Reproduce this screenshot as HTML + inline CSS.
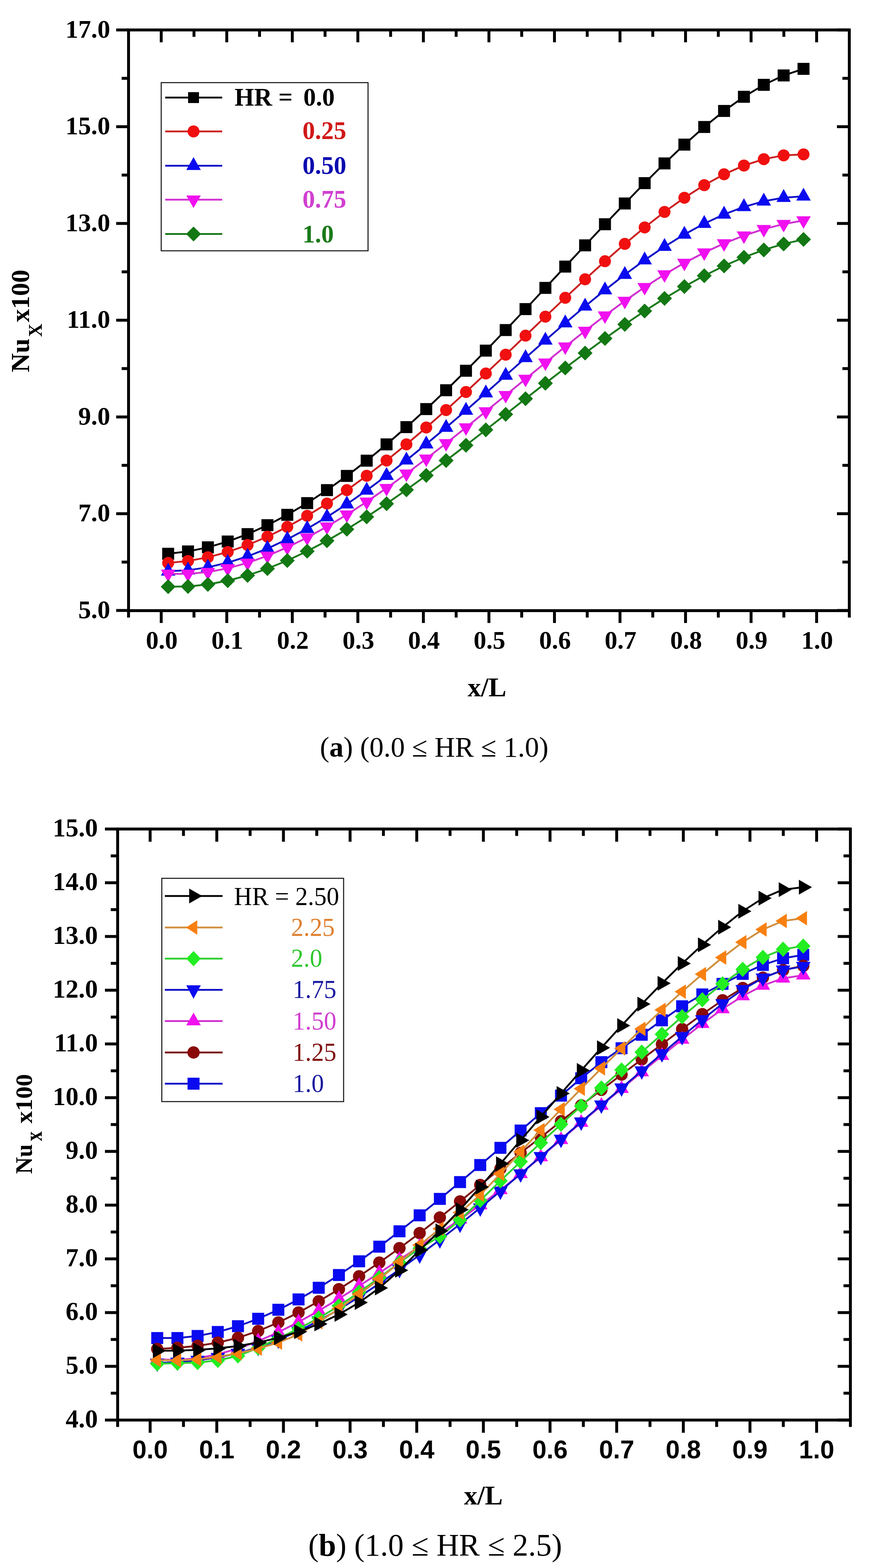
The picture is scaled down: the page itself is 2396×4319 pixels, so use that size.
<!DOCTYPE html>
<html><head><meta charset="utf-8"><title>Nu_x vs x/L</title>
<style>
html,body{margin:0;padding:0;background:#fff;}
body{width:2396px;height:4319px;overflow:hidden;}
svg{display:block;}
.tb{font-family:'Liberation Serif', 'Times New Roman', serif;font-weight:bold;}
.tr{font-family:'Liberation Serif', 'Times New Roman', serif;font-weight:normal;}
.sb{font-family:'Liberation Sans', Arial, sans-serif;font-weight:bold;}
.cap{font-family:'Liberation Serif', 'Times New Roman', serif;}
</style></head><body>
<svg width="2396" height="4319" viewBox="0 0 2396 4319">
<rect width="2396" height="4319" fill="#fff"/>
<g id="plotA">
<rect x="354" y="82.5" width="1985" height="1599.5" fill="none" stroke="#000" stroke-width="8"/>
<line x1="444.0" y1="1682" x2="444.0" y2="1716" stroke="#000" stroke-width="8"/>
<line x1="444.0" y1="82.5" x2="444.0" y2="116.5" stroke="#000" stroke-width="8"/>
<line x1="624.5" y1="1682" x2="624.5" y2="1716" stroke="#000" stroke-width="8"/>
<line x1="624.5" y1="82.5" x2="624.5" y2="116.5" stroke="#000" stroke-width="8"/>
<line x1="805.0" y1="1682" x2="805.0" y2="1716" stroke="#000" stroke-width="8"/>
<line x1="805.0" y1="82.5" x2="805.0" y2="116.5" stroke="#000" stroke-width="8"/>
<line x1="985.5" y1="1682" x2="985.5" y2="1716" stroke="#000" stroke-width="8"/>
<line x1="985.5" y1="82.5" x2="985.5" y2="116.5" stroke="#000" stroke-width="8"/>
<line x1="1166.0" y1="1682" x2="1166.0" y2="1716" stroke="#000" stroke-width="8"/>
<line x1="1166.0" y1="82.5" x2="1166.0" y2="116.5" stroke="#000" stroke-width="8"/>
<line x1="1346.5" y1="1682" x2="1346.5" y2="1716" stroke="#000" stroke-width="8"/>
<line x1="1346.5" y1="82.5" x2="1346.5" y2="116.5" stroke="#000" stroke-width="8"/>
<line x1="1527.0" y1="1682" x2="1527.0" y2="1716" stroke="#000" stroke-width="8"/>
<line x1="1527.0" y1="82.5" x2="1527.0" y2="116.5" stroke="#000" stroke-width="8"/>
<line x1="1707.5" y1="1682" x2="1707.5" y2="1716" stroke="#000" stroke-width="8"/>
<line x1="1707.5" y1="82.5" x2="1707.5" y2="116.5" stroke="#000" stroke-width="8"/>
<line x1="1888.0" y1="1682" x2="1888.0" y2="1716" stroke="#000" stroke-width="8"/>
<line x1="1888.0" y1="82.5" x2="1888.0" y2="116.5" stroke="#000" stroke-width="8"/>
<line x1="2068.5" y1="1682" x2="2068.5" y2="1716" stroke="#000" stroke-width="8"/>
<line x1="2068.5" y1="82.5" x2="2068.5" y2="116.5" stroke="#000" stroke-width="8"/>
<line x1="2249.0" y1="1682" x2="2249.0" y2="1716" stroke="#000" stroke-width="8"/>
<line x1="2249.0" y1="82.5" x2="2249.0" y2="116.5" stroke="#000" stroke-width="8"/>
<line x1="354" y1="1682" x2="354" y2="1701" stroke="#000" stroke-width="8"/>
<line x1="2339" y1="1682" x2="2339" y2="1701" stroke="#000" stroke-width="8"/>
<line x1="534.25" y1="1682" x2="534.25" y2="1701" stroke="#000" stroke-width="8"/>
<line x1="534.25" y1="82.5" x2="534.25" y2="101.5" stroke="#000" stroke-width="8"/>
<line x1="714.75" y1="1682" x2="714.75" y2="1701" stroke="#000" stroke-width="8"/>
<line x1="714.75" y1="82.5" x2="714.75" y2="101.5" stroke="#000" stroke-width="8"/>
<line x1="895.25" y1="1682" x2="895.25" y2="1701" stroke="#000" stroke-width="8"/>
<line x1="895.25" y1="82.5" x2="895.25" y2="101.5" stroke="#000" stroke-width="8"/>
<line x1="1075.75" y1="1682" x2="1075.75" y2="1701" stroke="#000" stroke-width="8"/>
<line x1="1075.75" y1="82.5" x2="1075.75" y2="101.5" stroke="#000" stroke-width="8"/>
<line x1="1256.25" y1="1682" x2="1256.25" y2="1701" stroke="#000" stroke-width="8"/>
<line x1="1256.25" y1="82.5" x2="1256.25" y2="101.5" stroke="#000" stroke-width="8"/>
<line x1="1436.75" y1="1682" x2="1436.75" y2="1701" stroke="#000" stroke-width="8"/>
<line x1="1436.75" y1="82.5" x2="1436.75" y2="101.5" stroke="#000" stroke-width="8"/>
<line x1="1617.25" y1="1682" x2="1617.25" y2="1701" stroke="#000" stroke-width="8"/>
<line x1="1617.25" y1="82.5" x2="1617.25" y2="101.5" stroke="#000" stroke-width="8"/>
<line x1="1797.75" y1="1682" x2="1797.75" y2="1701" stroke="#000" stroke-width="8"/>
<line x1="1797.75" y1="82.5" x2="1797.75" y2="101.5" stroke="#000" stroke-width="8"/>
<line x1="1978.2500000000002" y1="1682" x2="1978.2500000000002" y2="1701" stroke="#000" stroke-width="8"/>
<line x1="1978.2500000000002" y1="82.5" x2="1978.2500000000002" y2="101.5" stroke="#000" stroke-width="8"/>
<line x1="2158.75" y1="1682" x2="2158.75" y2="1701" stroke="#000" stroke-width="8"/>
<line x1="2158.75" y1="82.5" x2="2158.75" y2="101.5" stroke="#000" stroke-width="8"/>
<line x1="354" y1="1681.5" x2="320" y2="1681.5" stroke="#000" stroke-width="8"/>
<line x1="2339" y1="1681.5" x2="2305" y2="1681.5" stroke="#000" stroke-width="8"/>
<line x1="354" y1="1415.0" x2="320" y2="1415.0" stroke="#000" stroke-width="8"/>
<line x1="2339" y1="1415.0" x2="2305" y2="1415.0" stroke="#000" stroke-width="8"/>
<line x1="354" y1="1148.5" x2="320" y2="1148.5" stroke="#000" stroke-width="8"/>
<line x1="2339" y1="1148.5" x2="2305" y2="1148.5" stroke="#000" stroke-width="8"/>
<line x1="354" y1="882.0" x2="320" y2="882.0" stroke="#000" stroke-width="8"/>
<line x1="2339" y1="882.0" x2="2305" y2="882.0" stroke="#000" stroke-width="8"/>
<line x1="354" y1="615.5" x2="320" y2="615.5" stroke="#000" stroke-width="8"/>
<line x1="2339" y1="615.5" x2="2305" y2="615.5" stroke="#000" stroke-width="8"/>
<line x1="354" y1="349.0" x2="320" y2="349.0" stroke="#000" stroke-width="8"/>
<line x1="2339" y1="349.0" x2="2305" y2="349.0" stroke="#000" stroke-width="8"/>
<line x1="354" y1="82.5" x2="320" y2="82.5" stroke="#000" stroke-width="8"/>
<line x1="2339" y1="82.5" x2="2305" y2="82.5" stroke="#000" stroke-width="8"/>
<line x1="354" y1="1548.25" x2="335" y2="1548.25" stroke="#000" stroke-width="8"/>
<line x1="2339" y1="1548.25" x2="2320" y2="1548.25" stroke="#000" stroke-width="8"/>
<line x1="354" y1="1281.75" x2="335" y2="1281.75" stroke="#000" stroke-width="8"/>
<line x1="2339" y1="1281.75" x2="2320" y2="1281.75" stroke="#000" stroke-width="8"/>
<line x1="354" y1="1015.25" x2="335" y2="1015.25" stroke="#000" stroke-width="8"/>
<line x1="2339" y1="1015.25" x2="2320" y2="1015.25" stroke="#000" stroke-width="8"/>
<line x1="354" y1="748.75" x2="335" y2="748.75" stroke="#000" stroke-width="8"/>
<line x1="2339" y1="748.75" x2="2320" y2="748.75" stroke="#000" stroke-width="8"/>
<line x1="354" y1="482.25" x2="335" y2="482.25" stroke="#000" stroke-width="8"/>
<line x1="2339" y1="482.25" x2="2320" y2="482.25" stroke="#000" stroke-width="8"/>
<line x1="354" y1="215.75" x2="335" y2="215.75" stroke="#000" stroke-width="8"/>
<line x1="2339" y1="215.75" x2="2320" y2="215.75" stroke="#000" stroke-width="8"/>
<text x="303.5" y="1702.5" text-anchor="end" class="tb" font-size="70.5">5.0</text>
<text x="303.5" y="1436.0" text-anchor="end" class="tb" font-size="70.5">7.0</text>
<text x="303.5" y="1169.5" text-anchor="end" class="tb" font-size="70.5">9.0</text>
<text x="303.5" y="903.0" text-anchor="end" class="tb" font-size="70.5">11.0</text>
<text x="303.5" y="636.5" text-anchor="end" class="tb" font-size="70.5">13.0</text>
<text x="303.5" y="370.0" text-anchor="end" class="tb" font-size="70.5">15.0</text>
<text x="303.5" y="103.5" text-anchor="end" class="tb" font-size="70.5">17.0</text>
<text x="445.5" y="1787" text-anchor="middle" class="tb" font-size="70">0.0</text>
<text x="626.0" y="1787" text-anchor="middle" class="tb" font-size="70">0.1</text>
<text x="806.5" y="1787" text-anchor="middle" class="tb" font-size="70">0.2</text>
<text x="987.0" y="1787" text-anchor="middle" class="tb" font-size="70">0.3</text>
<text x="1167.5" y="1787" text-anchor="middle" class="tb" font-size="70">0.4</text>
<text x="1348.0" y="1787" text-anchor="middle" class="tb" font-size="70">0.5</text>
<text x="1528.5" y="1787" text-anchor="middle" class="tb" font-size="70">0.6</text>
<text x="1709.0" y="1787" text-anchor="middle" class="tb" font-size="70">0.7</text>
<text x="1889.5" y="1787" text-anchor="middle" class="tb" font-size="70">0.8</text>
<text x="2070.0" y="1787" text-anchor="middle" class="tb" font-size="70">0.9</text>
<text x="2250.5" y="1787" text-anchor="middle" class="tb" font-size="70">1.0</text>
<text x="1341.2" y="1917.7" text-anchor="middle" class="tb" font-size="74">x/L</text>
<g transform="translate(79.8,1024.4) rotate(-90)"><text x="-1" y="0" class="tb" font-size="72" textLength="93" lengthAdjust="spacingAndGlyphs">Nu</text><text x="96.5" y="35.3" class="tb" font-size="53" textLength="36.5" lengthAdjust="spacingAndGlyphs">X</text><text x="137" y="0" class="tb" font-size="72" textLength="144.5" lengthAdjust="spacingAndGlyphs">x100</text></g>
<polyline points="463.1,1525.3 517.8,1518.9 572.5,1507.6 627.1,1491.6 681.8,1471.2 736.5,1446.6 791.2,1418.1 845.9,1385.8 900.5,1350.0 955.2,1310.9 1009.9,1268.9 1064.6,1224.0 1119.3,1176.5 1173.9,1126.8 1228.6,1074.9 1283.3,1021.2 1338.0,965.8 1392.7,909.1 1447.3,851.4 1502.0,793.0 1556.7,734.3 1611.4,675.8 1666.1,617.7 1720.7,560.5 1775.4,504.4 1830.1,450.1 1884.8,398.3 1939.5,349.8 1994.1,305.6 2048.8,266.6 2103.5,233.7 2158.2,207.8 2212.9,189.7" fill="none" stroke="#000" stroke-width="5" stroke-linejoin="round"/><rect x="446.6" y="1508.8" width="33.0" height="33.0" fill="#000"/><rect x="501.3" y="1502.4" width="33.0" height="33.0" fill="#000"/><rect x="556.0" y="1491.1" width="33.0" height="33.0" fill="#000"/><rect x="610.6" y="1475.1" width="33.0" height="33.0" fill="#000"/><rect x="665.3" y="1454.7" width="33.0" height="33.0" fill="#000"/><rect x="720.0" y="1430.1" width="33.0" height="33.0" fill="#000"/><rect x="774.7" y="1401.6" width="33.0" height="33.0" fill="#000"/><rect x="829.4" y="1369.3" width="33.0" height="33.0" fill="#000"/><rect x="884.0" y="1333.5" width="33.0" height="33.0" fill="#000"/><rect x="938.7" y="1294.4" width="33.0" height="33.0" fill="#000"/><rect x="993.4" y="1252.4" width="33.0" height="33.0" fill="#000"/><rect x="1048.1" y="1207.5" width="33.0" height="33.0" fill="#000"/><rect x="1102.8" y="1160.0" width="33.0" height="33.0" fill="#000"/><rect x="1157.4" y="1110.3" width="33.0" height="33.0" fill="#000"/><rect x="1212.1" y="1058.4" width="33.0" height="33.0" fill="#000"/><rect x="1266.8" y="1004.7" width="33.0" height="33.0" fill="#000"/><rect x="1321.5" y="949.3" width="33.0" height="33.0" fill="#000"/><rect x="1376.2" y="892.6" width="33.0" height="33.0" fill="#000"/><rect x="1430.8" y="834.9" width="33.0" height="33.0" fill="#000"/><rect x="1485.5" y="776.5" width="33.0" height="33.0" fill="#000"/><rect x="1540.2" y="717.8" width="33.0" height="33.0" fill="#000"/><rect x="1594.9" y="659.3" width="33.0" height="33.0" fill="#000"/><rect x="1649.6" y="601.2" width="33.0" height="33.0" fill="#000"/><rect x="1704.2" y="544.0" width="33.0" height="33.0" fill="#000"/><rect x="1758.9" y="487.9" width="33.0" height="33.0" fill="#000"/><rect x="1813.6" y="433.6" width="33.0" height="33.0" fill="#000"/><rect x="1868.3" y="381.8" width="33.0" height="33.0" fill="#000"/><rect x="1923.0" y="333.3" width="33.0" height="33.0" fill="#000"/><rect x="1977.6" y="289.1" width="33.0" height="33.0" fill="#000"/><rect x="2032.3" y="250.1" width="33.0" height="33.0" fill="#000"/><rect x="2087.0" y="217.2" width="33.0" height="33.0" fill="#000"/><rect x="2141.7" y="191.3" width="33.0" height="33.0" fill="#000"/><rect x="2196.4" y="173.2" width="33.0" height="33.0" fill="#000"/>
<polyline points="463.1,1550.6 517.8,1545.3 572.5,1535.1 627.1,1520.4 681.8,1501.3 736.5,1478.2 791.2,1451.3 845.9,1420.8 900.5,1387.0 955.2,1350.1 1009.9,1310.5 1064.6,1268.4 1119.3,1224.0 1173.9,1177.5 1228.6,1129.4 1283.3,1079.7 1338.0,1028.8 1392.7,977.0 1447.3,924.6 1502.0,872.2 1556.7,820.3 1611.4,769.3 1666.1,719.6 1720.7,671.8 1775.4,626.4 1830.1,583.8 1884.8,544.7 1939.5,510.0 1994.1,480.1 2048.8,456.0 2103.5,438.4 2158.2,427.9 2212.9,425.2" fill="none" stroke="#cc2020" stroke-width="5" stroke-linejoin="round"/><circle cx="463.1" cy="1550.6" r="16.5" fill="#f01010"/><circle cx="517.8" cy="1545.3" r="16.5" fill="#f01010"/><circle cx="572.5" cy="1535.1" r="16.5" fill="#f01010"/><circle cx="627.1" cy="1520.4" r="16.5" fill="#f01010"/><circle cx="681.8" cy="1501.3" r="16.5" fill="#f01010"/><circle cx="736.5" cy="1478.2" r="16.5" fill="#f01010"/><circle cx="791.2" cy="1451.3" r="16.5" fill="#f01010"/><circle cx="845.9" cy="1420.8" r="16.5" fill="#f01010"/><circle cx="900.5" cy="1387.0" r="16.5" fill="#f01010"/><circle cx="955.2" cy="1350.1" r="16.5" fill="#f01010"/><circle cx="1009.9" cy="1310.5" r="16.5" fill="#f01010"/><circle cx="1064.6" cy="1268.4" r="16.5" fill="#f01010"/><circle cx="1119.3" cy="1224.0" r="16.5" fill="#f01010"/><circle cx="1173.9" cy="1177.5" r="16.5" fill="#f01010"/><circle cx="1228.6" cy="1129.4" r="16.5" fill="#f01010"/><circle cx="1283.3" cy="1079.7" r="16.5" fill="#f01010"/><circle cx="1338.0" cy="1028.8" r="16.5" fill="#f01010"/><circle cx="1392.7" cy="977.0" r="16.5" fill="#f01010"/><circle cx="1447.3" cy="924.6" r="16.5" fill="#f01010"/><circle cx="1502.0" cy="872.2" r="16.5" fill="#f01010"/><circle cx="1556.7" cy="820.3" r="16.5" fill="#f01010"/><circle cx="1611.4" cy="769.3" r="16.5" fill="#f01010"/><circle cx="1666.1" cy="719.6" r="16.5" fill="#f01010"/><circle cx="1720.7" cy="671.8" r="16.5" fill="#f01010"/><circle cx="1775.4" cy="626.4" r="16.5" fill="#f01010"/><circle cx="1830.1" cy="583.8" r="16.5" fill="#f01010"/><circle cx="1884.8" cy="544.7" r="16.5" fill="#f01010"/><circle cx="1939.5" cy="510.0" r="16.5" fill="#f01010"/><circle cx="1994.1" cy="480.1" r="16.5" fill="#f01010"/><circle cx="2048.8" cy="456.0" r="16.5" fill="#f01010"/><circle cx="2103.5" cy="438.4" r="16.5" fill="#f01010"/><circle cx="2158.2" cy="427.9" r="16.5" fill="#f01010"/><circle cx="2212.9" cy="425.2" r="16.5" fill="#f01010"/>
<polyline points="463.1,1573.5 517.8,1570.6 572.5,1562.6 627.1,1549.8 681.8,1532.5 736.5,1510.9 791.2,1485.5 845.9,1456.4 900.5,1424.1 955.2,1388.7 1009.9,1350.6 1064.6,1310.2 1119.3,1267.7 1173.9,1223.3 1228.6,1177.5 1283.3,1130.5 1338.0,1082.7 1392.7,1034.2 1447.3,985.7 1502.0,937.4 1556.7,889.9 1611.4,843.6 1666.1,799.0 1720.7,756.4 1775.4,716.4 1830.1,679.3 1884.8,645.7 1939.5,615.9 1994.1,590.5 2048.8,569.8 2103.5,554.3 2158.2,544.5 2212.9,540.8" fill="none" stroke="#1010c8" stroke-width="5" stroke-linejoin="round"/><polygon points="443.1,1585.4 483.1,1585.4 463.1,1549.9" fill="#0a0af0"/><polygon points="497.8,1582.5 537.8,1582.5 517.8,1547.0" fill="#0a0af0"/><polygon points="552.5,1574.5 592.5,1574.5 572.5,1539.0" fill="#0a0af0"/><polygon points="607.1,1561.6 647.1,1561.6 627.1,1526.1" fill="#0a0af0"/><polygon points="661.8,1544.3 701.8,1544.3 681.8,1508.8" fill="#0a0af0"/><polygon points="716.5,1522.8 756.5,1522.8 736.5,1487.3" fill="#0a0af0"/><polygon points="771.2,1497.3 811.2,1497.3 791.2,1461.8" fill="#0a0af0"/><polygon points="825.9,1468.2 865.9,1468.2 845.9,1432.7" fill="#0a0af0"/><polygon points="880.5,1435.9 920.5,1435.9 900.5,1400.4" fill="#0a0af0"/><polygon points="935.2,1400.5 975.2,1400.5 955.2,1365.0" fill="#0a0af0"/><polygon points="989.9,1362.5 1029.9,1362.5 1009.9,1327.0" fill="#0a0af0"/><polygon points="1044.6,1322.0 1084.6,1322.0 1064.6,1286.5" fill="#0a0af0"/><polygon points="1099.3,1279.5 1139.3,1279.5 1119.3,1244.0" fill="#0a0af0"/><polygon points="1153.9,1235.2 1193.9,1235.2 1173.9,1199.7" fill="#0a0af0"/><polygon points="1208.6,1189.4 1248.6,1189.4 1228.6,1153.9" fill="#0a0af0"/><polygon points="1263.3,1142.4 1303.3,1142.4 1283.3,1106.9" fill="#0a0af0"/><polygon points="1318.0,1094.5 1358.0,1094.5 1338.0,1059.0" fill="#0a0af0"/><polygon points="1372.7,1046.1 1412.7,1046.1 1392.7,1010.6" fill="#0a0af0"/><polygon points="1427.3,997.5 1467.3,997.5 1447.3,962.0" fill="#0a0af0"/><polygon points="1482.0,949.2 1522.0,949.2 1502.0,913.7" fill="#0a0af0"/><polygon points="1536.7,901.7 1576.7,901.7 1556.7,866.2" fill="#0a0af0"/><polygon points="1591.4,855.4 1631.4,855.4 1611.4,819.9" fill="#0a0af0"/><polygon points="1646.1,810.8 1686.1,810.8 1666.1,775.3" fill="#0a0af0"/><polygon points="1700.7,768.2 1740.7,768.2 1720.7,732.7" fill="#0a0af0"/><polygon points="1755.4,728.2 1795.4,728.2 1775.4,692.7" fill="#0a0af0"/><polygon points="1810.1,691.1 1850.1,691.1 1830.1,655.6" fill="#0a0af0"/><polygon points="1864.8,657.5 1904.8,657.5 1884.8,622.0" fill="#0a0af0"/><polygon points="1919.5,627.8 1959.5,627.8 1939.5,592.3" fill="#0a0af0"/><polygon points="1974.1,602.3 2014.1,602.3 1994.1,566.8" fill="#0a0af0"/><polygon points="2028.8,581.6 2068.8,581.6 2048.8,546.1" fill="#0a0af0"/><polygon points="2083.5,566.2 2123.5,566.2 2103.5,530.7" fill="#0a0af0"/><polygon points="2138.2,556.3 2178.2,556.3 2158.2,520.8" fill="#0a0af0"/><polygon points="2192.9,552.6 2232.9,552.6 2212.9,517.1" fill="#0a0af0"/>
<polyline points="463.1,1580.4 517.8,1580.8 572.5,1575.7 627.1,1565.4 681.8,1550.3 736.5,1531.0 791.2,1507.6 845.9,1480.7 900.5,1450.5 955.2,1417.6 1009.9,1382.1 1064.6,1344.4 1119.3,1304.8 1173.9,1263.6 1228.6,1221.1 1283.3,1177.5 1338.0,1133.3 1392.7,1088.6 1447.3,1043.7 1502.0,999.1 1556.7,954.8 1611.4,911.4 1666.1,869.2 1720.7,828.9 1775.4,791.0 1830.1,756.1 1884.8,724.2 1939.5,695.7 1994.1,670.6 2048.8,649.0 2103.5,631.2 2158.2,617.2 2212.9,607.2" fill="none" stroke="#d030d0" stroke-width="5" stroke-linejoin="round"/><polygon points="443.1,1568.9 483.1,1568.9 463.1,1603.4" fill="#f010f0"/><polygon points="497.8,1569.3 537.8,1569.3 517.8,1603.8" fill="#f010f0"/><polygon points="552.5,1564.2 592.5,1564.2 572.5,1598.7" fill="#f010f0"/><polygon points="607.1,1553.9 647.1,1553.9 627.1,1588.4" fill="#f010f0"/><polygon points="661.8,1538.8 701.8,1538.8 681.8,1573.3" fill="#f010f0"/><polygon points="716.5,1519.5 756.5,1519.5 736.5,1554.0" fill="#f010f0"/><polygon points="771.2,1496.1 811.2,1496.1 791.2,1530.6" fill="#f010f0"/><polygon points="825.9,1469.2 865.9,1469.2 845.9,1503.7" fill="#f010f0"/><polygon points="880.5,1439.0 920.5,1439.0 900.5,1473.5" fill="#f010f0"/><polygon points="935.2,1406.1 975.2,1406.1 955.2,1440.6" fill="#f010f0"/><polygon points="989.9,1370.6 1029.9,1370.6 1009.9,1405.1" fill="#f010f0"/><polygon points="1044.6,1332.9 1084.6,1332.9 1064.6,1367.4" fill="#f010f0"/><polygon points="1099.3,1293.3 1139.3,1293.3 1119.3,1327.8" fill="#f010f0"/><polygon points="1153.9,1252.1 1193.9,1252.1 1173.9,1286.6" fill="#f010f0"/><polygon points="1208.6,1209.6 1248.6,1209.6 1228.6,1244.1" fill="#f010f0"/><polygon points="1263.3,1166.0 1303.3,1166.0 1283.3,1200.5" fill="#f010f0"/><polygon points="1318.0,1121.8 1358.0,1121.8 1338.0,1156.3" fill="#f010f0"/><polygon points="1372.7,1077.1 1412.7,1077.1 1392.7,1111.6" fill="#f010f0"/><polygon points="1427.3,1032.2 1467.3,1032.2 1447.3,1066.7" fill="#f010f0"/><polygon points="1482.0,987.6 1522.0,987.6 1502.0,1022.1" fill="#f010f0"/><polygon points="1536.7,943.3 1576.7,943.3 1556.7,977.8" fill="#f010f0"/><polygon points="1591.4,899.9 1631.4,899.9 1611.4,934.4" fill="#f010f0"/><polygon points="1646.1,857.7 1686.1,857.7 1666.1,892.2" fill="#f010f0"/><polygon points="1700.7,817.4 1740.7,817.4 1720.7,851.9" fill="#f010f0"/><polygon points="1755.4,779.5 1795.4,779.5 1775.4,814.0" fill="#f010f0"/><polygon points="1810.1,744.6 1850.1,744.6 1830.1,779.1" fill="#f010f0"/><polygon points="1864.8,712.7 1904.8,712.7 1884.8,747.2" fill="#f010f0"/><polygon points="1919.5,684.2 1959.5,684.2 1939.5,718.7" fill="#f010f0"/><polygon points="1974.1,659.1 2014.1,659.1 1994.1,693.6" fill="#f010f0"/><polygon points="2028.8,637.5 2068.8,637.5 2048.8,672.0" fill="#f010f0"/><polygon points="2083.5,619.7 2123.5,619.7 2103.5,654.2" fill="#f010f0"/><polygon points="2138.2,605.7 2178.2,605.7 2158.2,640.2" fill="#f010f0"/><polygon points="2192.9,595.7 2232.9,595.7 2212.9,630.2" fill="#f010f0"/>
<polyline points="463.1,1616.0 517.8,1615.4 572.5,1609.8 627.1,1599.5 681.8,1585.0 736.5,1566.3 791.2,1544.0 845.9,1518.3 900.5,1489.5 955.2,1457.8 1009.9,1423.7 1064.6,1387.4 1119.3,1349.2 1173.9,1309.5 1228.6,1268.6 1283.3,1226.6 1338.0,1184.1 1392.7,1141.2 1447.3,1098.3 1502.0,1055.7 1556.7,1013.6 1611.4,972.4 1666.1,932.3 1720.7,893.6 1775.4,856.7 1830.1,821.9 1884.8,789.3 1939.5,759.4 1994.1,732.4 2048.8,708.7 2103.5,688.4 2158.2,671.9 2212.9,659.6" fill="none" stroke="#1a7a1a" stroke-width="5" stroke-linejoin="round"/><polygon points="463.1,1595.5 483.6,1616.0 463.1,1636.5 442.6,1616.0" fill="#137813"/><polygon points="517.8,1594.9 538.3,1615.4 517.8,1635.9 497.3,1615.4" fill="#137813"/><polygon points="572.5,1589.3 593.0,1609.8 572.5,1630.3 552.0,1609.8" fill="#137813"/><polygon points="627.1,1579.0 647.6,1599.5 627.1,1620.0 606.6,1599.5" fill="#137813"/><polygon points="681.8,1564.5 702.3,1585.0 681.8,1605.5 661.3,1585.0" fill="#137813"/><polygon points="736.5,1545.8 757.0,1566.3 736.5,1586.8 716.0,1566.3" fill="#137813"/><polygon points="791.2,1523.5 811.7,1544.0 791.2,1564.5 770.7,1544.0" fill="#137813"/><polygon points="845.9,1497.8 866.4,1518.3 845.9,1538.8 825.4,1518.3" fill="#137813"/><polygon points="900.5,1469.0 921.0,1489.5 900.5,1510.0 880.0,1489.5" fill="#137813"/><polygon points="955.2,1437.3 975.7,1457.8 955.2,1478.3 934.7,1457.8" fill="#137813"/><polygon points="1009.9,1403.2 1030.4,1423.7 1009.9,1444.2 989.4,1423.7" fill="#137813"/><polygon points="1064.6,1366.9 1085.1,1387.4 1064.6,1407.9 1044.1,1387.4" fill="#137813"/><polygon points="1119.3,1328.7 1139.8,1349.2 1119.3,1369.7 1098.8,1349.2" fill="#137813"/><polygon points="1173.9,1289.0 1194.4,1309.5 1173.9,1330.0 1153.4,1309.5" fill="#137813"/><polygon points="1228.6,1248.1 1249.1,1268.6 1228.6,1289.1 1208.1,1268.6" fill="#137813"/><polygon points="1283.3,1206.1 1303.8,1226.6 1283.3,1247.1 1262.8,1226.6" fill="#137813"/><polygon points="1338.0,1163.6 1358.5,1184.1 1338.0,1204.6 1317.5,1184.1" fill="#137813"/><polygon points="1392.7,1120.7 1413.2,1141.2 1392.7,1161.7 1372.2,1141.2" fill="#137813"/><polygon points="1447.3,1077.8 1467.8,1098.3 1447.3,1118.8 1426.8,1098.3" fill="#137813"/><polygon points="1502.0,1035.2 1522.5,1055.7 1502.0,1076.2 1481.5,1055.7" fill="#137813"/><polygon points="1556.7,993.1 1577.2,1013.6 1556.7,1034.1 1536.2,1013.6" fill="#137813"/><polygon points="1611.4,951.9 1631.9,972.4 1611.4,992.9 1590.9,972.4" fill="#137813"/><polygon points="1666.1,911.8 1686.6,932.3 1666.1,952.8 1645.6,932.3" fill="#137813"/><polygon points="1720.7,873.1 1741.2,893.6 1720.7,914.1 1700.2,893.6" fill="#137813"/><polygon points="1775.4,836.2 1795.9,856.7 1775.4,877.2 1754.9,856.7" fill="#137813"/><polygon points="1830.1,801.4 1850.6,821.9 1830.1,842.4 1809.6,821.9" fill="#137813"/><polygon points="1884.8,768.8 1905.3,789.3 1884.8,809.8 1864.3,789.3" fill="#137813"/><polygon points="1939.5,738.9 1960.0,759.4 1939.5,779.9 1919.0,759.4" fill="#137813"/><polygon points="1994.1,711.9 2014.6,732.4 1994.1,752.9 1973.6,732.4" fill="#137813"/><polygon points="2048.8,688.2 2069.3,708.7 2048.8,729.2 2028.3,708.7" fill="#137813"/><polygon points="2103.5,667.9 2124.0,688.4 2103.5,708.9 2083.0,688.4" fill="#137813"/><polygon points="2158.2,651.4 2178.7,671.9 2158.2,692.4 2137.7,671.9" fill="#137813"/><polygon points="2212.9,639.1 2233.4,659.6 2212.9,680.1 2192.4,659.6" fill="#137813"/>
<rect x="444" y="227.6" width="569.6" height="463.2" fill="#fff" stroke="#222" stroke-width="3"/>
<line x1="455" y1="268.8" x2="612" y2="268.8" stroke="#000" stroke-width="5"/>
<rect x="518.0" y="253.8" width="30.0" height="30.0" fill="#000"/>
<line x1="455" y1="362" x2="612" y2="362" stroke="#cc2020" stroke-width="5"/>
<circle cx="533.0" cy="362.0" r="16.5" fill="#f01010"/>
<line x1="455" y1="456.5" x2="612" y2="456.5" stroke="#1010c8" stroke-width="5"/>
<polygon points="513.0,468.3 553.0,468.3 533.0,432.8" fill="#0a0af0"/>
<line x1="455" y1="550" x2="612" y2="550" stroke="#d030d0" stroke-width="5"/>
<polygon points="513.0,538.5 553.0,538.5 533.0,573.0" fill="#f010f0"/>
<line x1="455" y1="644.6" x2="612" y2="644.6" stroke="#1a7a1a" stroke-width="5"/>
<polygon points="533.0,624.1 553.5,644.6 533.0,665.1 512.5,644.6" fill="#137813"/>
<text x="646" y="290.6" class="tb" font-size="69" fill="#000">HR =</text>
<text x="835.5" y="290.6" class="tb" font-size="69" fill="#000">0.0</text>
<text x="833" y="383" class="tb" font-size="69" fill="#d01818">0.25</text>
<text x="833" y="478.5" class="tb" font-size="69" fill="#0a0ab0">0.50</text>
<text x="833" y="571.5" class="tb" font-size="69" fill="#d040d0">0.75</text>
<text x="833" y="667.5" class="tb" font-size="69" fill="#1a7a1a">1.0</text>
</g>
<text x="881" y="2084" class="cap" font-size="78">(<tspan font-weight="bold">a</tspan>) (0.0 ≤ HR ≤ 1.0)</text>
<g id="plotB">
<rect x="324" y="2283.5" width="2018" height="1628.0" fill="none" stroke="#000" stroke-width="8"/>
<line x1="413.5" y1="3911.5" x2="413.5" y2="3946.5" stroke="#000" stroke-width="8"/>
<line x1="413.5" y1="2283.5" x2="413.5" y2="2318.5" stroke="#000" stroke-width="8"/>
<line x1="597.05" y1="3911.5" x2="597.05" y2="3946.5" stroke="#000" stroke-width="8"/>
<line x1="597.05" y1="2283.5" x2="597.05" y2="2318.5" stroke="#000" stroke-width="8"/>
<line x1="780.6" y1="3911.5" x2="780.6" y2="3946.5" stroke="#000" stroke-width="8"/>
<line x1="780.6" y1="2283.5" x2="780.6" y2="2318.5" stroke="#000" stroke-width="8"/>
<line x1="964.15" y1="3911.5" x2="964.15" y2="3946.5" stroke="#000" stroke-width="8"/>
<line x1="964.15" y1="2283.5" x2="964.15" y2="2318.5" stroke="#000" stroke-width="8"/>
<line x1="1147.7" y1="3911.5" x2="1147.7" y2="3946.5" stroke="#000" stroke-width="8"/>
<line x1="1147.7" y1="2283.5" x2="1147.7" y2="2318.5" stroke="#000" stroke-width="8"/>
<line x1="1331.25" y1="3911.5" x2="1331.25" y2="3946.5" stroke="#000" stroke-width="8"/>
<line x1="1331.25" y1="2283.5" x2="1331.25" y2="2318.5" stroke="#000" stroke-width="8"/>
<line x1="1514.8" y1="3911.5" x2="1514.8" y2="3946.5" stroke="#000" stroke-width="8"/>
<line x1="1514.8" y1="2283.5" x2="1514.8" y2="2318.5" stroke="#000" stroke-width="8"/>
<line x1="1698.35" y1="3911.5" x2="1698.35" y2="3946.5" stroke="#000" stroke-width="8"/>
<line x1="1698.35" y1="2283.5" x2="1698.35" y2="2318.5" stroke="#000" stroke-width="8"/>
<line x1="1881.9" y1="3911.5" x2="1881.9" y2="3946.5" stroke="#000" stroke-width="8"/>
<line x1="1881.9" y1="2283.5" x2="1881.9" y2="2318.5" stroke="#000" stroke-width="8"/>
<line x1="2065.45" y1="3911.5" x2="2065.45" y2="3946.5" stroke="#000" stroke-width="8"/>
<line x1="2065.45" y1="2283.5" x2="2065.45" y2="2318.5" stroke="#000" stroke-width="8"/>
<line x1="2249.0" y1="3911.5" x2="2249.0" y2="3946.5" stroke="#000" stroke-width="8"/>
<line x1="2249.0" y1="2283.5" x2="2249.0" y2="2318.5" stroke="#000" stroke-width="8"/>
<line x1="324" y1="3911.5" x2="324" y2="3930.5" stroke="#000" stroke-width="8"/>
<line x1="2342" y1="3911.5" x2="2342" y2="3930.5" stroke="#000" stroke-width="8"/>
<line x1="505.275" y1="3911.5" x2="505.275" y2="3930.5" stroke="#000" stroke-width="8"/>
<line x1="505.275" y1="2283.5" x2="505.275" y2="2302.5" stroke="#000" stroke-width="8"/>
<line x1="688.825" y1="3911.5" x2="688.825" y2="3930.5" stroke="#000" stroke-width="8"/>
<line x1="688.825" y1="2283.5" x2="688.825" y2="2302.5" stroke="#000" stroke-width="8"/>
<line x1="872.375" y1="3911.5" x2="872.375" y2="3930.5" stroke="#000" stroke-width="8"/>
<line x1="872.375" y1="2283.5" x2="872.375" y2="2302.5" stroke="#000" stroke-width="8"/>
<line x1="1055.925" y1="3911.5" x2="1055.925" y2="3930.5" stroke="#000" stroke-width="8"/>
<line x1="1055.925" y1="2283.5" x2="1055.925" y2="2302.5" stroke="#000" stroke-width="8"/>
<line x1="1239.475" y1="3911.5" x2="1239.475" y2="3930.5" stroke="#000" stroke-width="8"/>
<line x1="1239.475" y1="2283.5" x2="1239.475" y2="2302.5" stroke="#000" stroke-width="8"/>
<line x1="1423.025" y1="3911.5" x2="1423.025" y2="3930.5" stroke="#000" stroke-width="8"/>
<line x1="1423.025" y1="2283.5" x2="1423.025" y2="2302.5" stroke="#000" stroke-width="8"/>
<line x1="1606.575" y1="3911.5" x2="1606.575" y2="3930.5" stroke="#000" stroke-width="8"/>
<line x1="1606.575" y1="2283.5" x2="1606.575" y2="2302.5" stroke="#000" stroke-width="8"/>
<line x1="1790.125" y1="3911.5" x2="1790.125" y2="3930.5" stroke="#000" stroke-width="8"/>
<line x1="1790.125" y1="2283.5" x2="1790.125" y2="2302.5" stroke="#000" stroke-width="8"/>
<line x1="1973.6750000000002" y1="3911.5" x2="1973.6750000000002" y2="3930.5" stroke="#000" stroke-width="8"/>
<line x1="1973.6750000000002" y1="2283.5" x2="1973.6750000000002" y2="2302.5" stroke="#000" stroke-width="8"/>
<line x1="2157.2250000000004" y1="3911.5" x2="2157.2250000000004" y2="3930.5" stroke="#000" stroke-width="8"/>
<line x1="2157.2250000000004" y1="2283.5" x2="2157.2250000000004" y2="2302.5" stroke="#000" stroke-width="8"/>
<line x1="324" y1="3911.5" x2="289" y2="3911.5" stroke="#000" stroke-width="8"/>
<line x1="2342" y1="3911.5" x2="2307" y2="3911.5" stroke="#000" stroke-width="8"/>
<line x1="324" y1="3763.5" x2="289" y2="3763.5" stroke="#000" stroke-width="8"/>
<line x1="2342" y1="3763.5" x2="2307" y2="3763.5" stroke="#000" stroke-width="8"/>
<line x1="324" y1="3615.5" x2="289" y2="3615.5" stroke="#000" stroke-width="8"/>
<line x1="2342" y1="3615.5" x2="2307" y2="3615.5" stroke="#000" stroke-width="8"/>
<line x1="324" y1="3467.5" x2="289" y2="3467.5" stroke="#000" stroke-width="8"/>
<line x1="2342" y1="3467.5" x2="2307" y2="3467.5" stroke="#000" stroke-width="8"/>
<line x1="324" y1="3319.5" x2="289" y2="3319.5" stroke="#000" stroke-width="8"/>
<line x1="2342" y1="3319.5" x2="2307" y2="3319.5" stroke="#000" stroke-width="8"/>
<line x1="324" y1="3171.5" x2="289" y2="3171.5" stroke="#000" stroke-width="8"/>
<line x1="2342" y1="3171.5" x2="2307" y2="3171.5" stroke="#000" stroke-width="8"/>
<line x1="324" y1="3023.5" x2="289" y2="3023.5" stroke="#000" stroke-width="8"/>
<line x1="2342" y1="3023.5" x2="2307" y2="3023.5" stroke="#000" stroke-width="8"/>
<line x1="324" y1="2875.5" x2="289" y2="2875.5" stroke="#000" stroke-width="8"/>
<line x1="2342" y1="2875.5" x2="2307" y2="2875.5" stroke="#000" stroke-width="8"/>
<line x1="324" y1="2727.5" x2="289" y2="2727.5" stroke="#000" stroke-width="8"/>
<line x1="2342" y1="2727.5" x2="2307" y2="2727.5" stroke="#000" stroke-width="8"/>
<line x1="324" y1="2579.5" x2="289" y2="2579.5" stroke="#000" stroke-width="8"/>
<line x1="2342" y1="2579.5" x2="2307" y2="2579.5" stroke="#000" stroke-width="8"/>
<line x1="324" y1="2431.5" x2="289" y2="2431.5" stroke="#000" stroke-width="8"/>
<line x1="2342" y1="2431.5" x2="2307" y2="2431.5" stroke="#000" stroke-width="8"/>
<line x1="324" y1="2283.5" x2="289" y2="2283.5" stroke="#000" stroke-width="8"/>
<line x1="2342" y1="2283.5" x2="2307" y2="2283.5" stroke="#000" stroke-width="8"/>
<line x1="324" y1="3837.5" x2="305" y2="3837.5" stroke="#000" stroke-width="8"/>
<line x1="2342" y1="3837.5" x2="2323" y2="3837.5" stroke="#000" stroke-width="8"/>
<line x1="324" y1="3689.5" x2="305" y2="3689.5" stroke="#000" stroke-width="8"/>
<line x1="2342" y1="3689.5" x2="2323" y2="3689.5" stroke="#000" stroke-width="8"/>
<line x1="324" y1="3541.5" x2="305" y2="3541.5" stroke="#000" stroke-width="8"/>
<line x1="2342" y1="3541.5" x2="2323" y2="3541.5" stroke="#000" stroke-width="8"/>
<line x1="324" y1="3393.5" x2="305" y2="3393.5" stroke="#000" stroke-width="8"/>
<line x1="2342" y1="3393.5" x2="2323" y2="3393.5" stroke="#000" stroke-width="8"/>
<line x1="324" y1="3245.5" x2="305" y2="3245.5" stroke="#000" stroke-width="8"/>
<line x1="2342" y1="3245.5" x2="2323" y2="3245.5" stroke="#000" stroke-width="8"/>
<line x1="324" y1="3097.5" x2="305" y2="3097.5" stroke="#000" stroke-width="8"/>
<line x1="2342" y1="3097.5" x2="2323" y2="3097.5" stroke="#000" stroke-width="8"/>
<line x1="324" y1="2949.5" x2="305" y2="2949.5" stroke="#000" stroke-width="8"/>
<line x1="2342" y1="2949.5" x2="2323" y2="2949.5" stroke="#000" stroke-width="8"/>
<line x1="324" y1="2801.5" x2="305" y2="2801.5" stroke="#000" stroke-width="8"/>
<line x1="2342" y1="2801.5" x2="2323" y2="2801.5" stroke="#000" stroke-width="8"/>
<line x1="324" y1="2653.5" x2="305" y2="2653.5" stroke="#000" stroke-width="8"/>
<line x1="2342" y1="2653.5" x2="2323" y2="2653.5" stroke="#000" stroke-width="8"/>
<line x1="324" y1="2505.5" x2="305" y2="2505.5" stroke="#000" stroke-width="8"/>
<line x1="2342" y1="2505.5" x2="2323" y2="2505.5" stroke="#000" stroke-width="8"/>
<line x1="324" y1="2357.5" x2="305" y2="2357.5" stroke="#000" stroke-width="8"/>
<line x1="2342" y1="2357.5" x2="2323" y2="2357.5" stroke="#000" stroke-width="8"/>
<text x="269.5" y="3931.5" text-anchor="end" class="tb" font-size="71">4.0</text>
<text x="269.5" y="3783.5" text-anchor="end" class="tb" font-size="71">5.0</text>
<text x="269.5" y="3635.5" text-anchor="end" class="tb" font-size="71">6.0</text>
<text x="269.5" y="3487.5" text-anchor="end" class="tb" font-size="71">7.0</text>
<text x="269.5" y="3339.5" text-anchor="end" class="tb" font-size="71">8.0</text>
<text x="269.5" y="3191.5" text-anchor="end" class="tb" font-size="71">9.0</text>
<text x="269.5" y="3043.5" text-anchor="end" class="tb" font-size="71">10.0</text>
<text x="269.5" y="2895.5" text-anchor="end" class="tb" font-size="71">11.0</text>
<text x="269.5" y="2747.5" text-anchor="end" class="tb" font-size="71">12.0</text>
<text x="269.5" y="2599.5" text-anchor="end" class="tb" font-size="71">13.0</text>
<text x="269.5" y="2451.5" text-anchor="end" class="tb" font-size="71">14.0</text>
<text x="269.5" y="2303.5" text-anchor="end" class="tb" font-size="71">15.0</text>
<text x="413.5" y="4017" text-anchor="middle" class="sb" font-size="70">0.0</text>
<text x="597.0" y="4017" text-anchor="middle" class="sb" font-size="70">0.1</text>
<text x="780.6" y="4017" text-anchor="middle" class="sb" font-size="70">0.2</text>
<text x="964.1" y="4017" text-anchor="middle" class="sb" font-size="70">0.3</text>
<text x="1147.7" y="4017" text-anchor="middle" class="sb" font-size="70">0.4</text>
<text x="1331.2" y="4017" text-anchor="middle" class="sb" font-size="70">0.5</text>
<text x="1514.8" y="4017" text-anchor="middle" class="sb" font-size="70">0.6</text>
<text x="1698.3" y="4017" text-anchor="middle" class="sb" font-size="70">0.7</text>
<text x="1881.9" y="4017" text-anchor="middle" class="sb" font-size="70">0.8</text>
<text x="2065.4" y="4017" text-anchor="middle" class="sb" font-size="70">0.9</text>
<text x="2249.0" y="4017" text-anchor="middle" class="sb" font-size="70">1.0</text>
<text x="1331.2" y="4144.4" text-anchor="middle" class="tb" font-size="74">x/L</text>
<g transform="translate(87.8,3232.5) rotate(-90)"><text x="-1" y="0" class="tb" font-size="66" textLength="82" lengthAdjust="spacingAndGlyphs">Nu</text><text x="89.5" y="27.2" class="tb" font-size="65" textLength="26.5" lengthAdjust="spacingAndGlyphs">x</text><text x="138" y="0" class="tb" font-size="66" textLength="136" lengthAdjust="spacingAndGlyphs">x100</text></g>
<polyline points="433.0,3685.6 488.6,3685.6 544.2,3679.9 599.8,3668.9 655.4,3653.0 711.0,3632.5 766.6,3607.7 822.2,3579.2 877.8,3547.1 933.4,3512.0 989.0,3474.2 1044.6,3433.9 1100.2,3391.6 1155.8,3347.6 1211.4,3302.3 1267.0,3256.0 1322.6,3209.0 1378.2,3161.7 1433.8,3114.0 1489.4,3066.1 1545.0,3017.9 1600.6,2970.0 1656.2,2925.7 1711.8,2887.3 1767.4,2850.2 1823.0,2810.4 1878.6,2771.8 1934.2,2739.1 1989.8,2710.1 2045.4,2682.5 2101.0,2657.9 2156.6,2639.5 2212.2,2630.2" fill="none" stroke="#1010c8" stroke-width="5" stroke-linejoin="round"/><rect x="416.5" y="3669.1" width="33.0" height="33.0" fill="#0a0af0"/><rect x="472.1" y="3669.1" width="33.0" height="33.0" fill="#0a0af0"/><rect x="527.7" y="3663.4" width="33.0" height="33.0" fill="#0a0af0"/><rect x="583.3" y="3652.4" width="33.0" height="33.0" fill="#0a0af0"/><rect x="638.9" y="3636.5" width="33.0" height="33.0" fill="#0a0af0"/><rect x="694.5" y="3616.0" width="33.0" height="33.0" fill="#0a0af0"/><rect x="750.1" y="3591.2" width="33.0" height="33.0" fill="#0a0af0"/><rect x="805.7" y="3562.7" width="33.0" height="33.0" fill="#0a0af0"/><rect x="861.3" y="3530.6" width="33.0" height="33.0" fill="#0a0af0"/><rect x="916.9" y="3495.5" width="33.0" height="33.0" fill="#0a0af0"/><rect x="972.5" y="3457.7" width="33.0" height="33.0" fill="#0a0af0"/><rect x="1028.1" y="3417.4" width="33.0" height="33.0" fill="#0a0af0"/><rect x="1083.7" y="3375.1" width="33.0" height="33.0" fill="#0a0af0"/><rect x="1139.3" y="3331.1" width="33.0" height="33.0" fill="#0a0af0"/><rect x="1194.9" y="3285.8" width="33.0" height="33.0" fill="#0a0af0"/><rect x="1250.5" y="3239.5" width="33.0" height="33.0" fill="#0a0af0"/><rect x="1306.1" y="3192.5" width="33.0" height="33.0" fill="#0a0af0"/><rect x="1361.7" y="3145.2" width="33.0" height="33.0" fill="#0a0af0"/><rect x="1417.3" y="3097.5" width="33.0" height="33.0" fill="#0a0af0"/><rect x="1472.9" y="3049.6" width="33.0" height="33.0" fill="#0a0af0"/><rect x="1528.5" y="3001.4" width="33.0" height="33.0" fill="#0a0af0"/><rect x="1584.1" y="2953.5" width="33.0" height="33.0" fill="#0a0af0"/><rect x="1639.7" y="2909.2" width="33.0" height="33.0" fill="#0a0af0"/><rect x="1695.3" y="2870.8" width="33.0" height="33.0" fill="#0a0af0"/><rect x="1750.9" y="2833.7" width="33.0" height="33.0" fill="#0a0af0"/><rect x="1806.5" y="2793.9" width="33.0" height="33.0" fill="#0a0af0"/><rect x="1862.1" y="2755.3" width="33.0" height="33.0" fill="#0a0af0"/><rect x="1917.7" y="2722.6" width="33.0" height="33.0" fill="#0a0af0"/><rect x="1973.3" y="2693.6" width="33.0" height="33.0" fill="#0a0af0"/><rect x="2028.9" y="2666.0" width="33.0" height="33.0" fill="#0a0af0"/><rect x="2084.5" y="2641.4" width="33.0" height="33.0" fill="#0a0af0"/><rect x="2140.1" y="2623.0" width="33.0" height="33.0" fill="#0a0af0"/><rect x="2195.7" y="2613.7" width="33.0" height="33.0" fill="#0a0af0"/>
<polyline points="433.0,3715.8 488.6,3712.5 544.2,3707.1 599.8,3698.2 655.4,3684.9 711.0,3666.2 766.6,3642.8 822.2,3615.2 877.8,3584.4 933.4,3551.1 989.0,3515.4 1044.6,3477.7 1100.2,3438.0 1155.8,3396.6 1211.4,3353.6 1267.0,3309.2 1322.6,3263.9 1378.2,3219.1 1433.8,3175.8 1489.4,3132.6 1545.0,3088.3 1600.6,3044.7 1656.2,3002.0 1711.8,2959.9 1767.4,2918.1 1823.0,2876.3 1878.6,2834.4 1934.2,2793.5 1989.8,2755.3 2045.4,2721.4 2101.0,2693.1 2156.6,2672.2 2212.2,2660.2" fill="none" stroke="#7a1010" stroke-width="5" stroke-linejoin="round"/><circle cx="433.0" cy="3715.8" r="17.0" fill="#8a0a0a"/><circle cx="488.6" cy="3712.5" r="17.0" fill="#8a0a0a"/><circle cx="544.2" cy="3707.1" r="17.0" fill="#8a0a0a"/><circle cx="599.8" cy="3698.2" r="17.0" fill="#8a0a0a"/><circle cx="655.4" cy="3684.9" r="17.0" fill="#8a0a0a"/><circle cx="711.0" cy="3666.2" r="17.0" fill="#8a0a0a"/><circle cx="766.6" cy="3642.8" r="17.0" fill="#8a0a0a"/><circle cx="822.2" cy="3615.2" r="17.0" fill="#8a0a0a"/><circle cx="877.8" cy="3584.4" r="17.0" fill="#8a0a0a"/><circle cx="933.4" cy="3551.1" r="17.0" fill="#8a0a0a"/><circle cx="989.0" cy="3515.4" r="17.0" fill="#8a0a0a"/><circle cx="1044.6" cy="3477.7" r="17.0" fill="#8a0a0a"/><circle cx="1100.2" cy="3438.0" r="17.0" fill="#8a0a0a"/><circle cx="1155.8" cy="3396.6" r="17.0" fill="#8a0a0a"/><circle cx="1211.4" cy="3353.6" r="17.0" fill="#8a0a0a"/><circle cx="1267.0" cy="3309.2" r="17.0" fill="#8a0a0a"/><circle cx="1322.6" cy="3263.9" r="17.0" fill="#8a0a0a"/><circle cx="1378.2" cy="3219.1" r="17.0" fill="#8a0a0a"/><circle cx="1433.8" cy="3175.8" r="17.0" fill="#8a0a0a"/><circle cx="1489.4" cy="3132.6" r="17.0" fill="#8a0a0a"/><circle cx="1545.0" cy="3088.3" r="17.0" fill="#8a0a0a"/><circle cx="1600.6" cy="3044.7" r="17.0" fill="#8a0a0a"/><circle cx="1656.2" cy="3002.0" r="17.0" fill="#8a0a0a"/><circle cx="1711.8" cy="2959.9" r="17.0" fill="#8a0a0a"/><circle cx="1767.4" cy="2918.1" r="17.0" fill="#8a0a0a"/><circle cx="1823.0" cy="2876.3" r="17.0" fill="#8a0a0a"/><circle cx="1878.6" cy="2834.4" r="17.0" fill="#8a0a0a"/><circle cx="1934.2" cy="2793.5" r="17.0" fill="#8a0a0a"/><circle cx="1989.8" cy="2755.3" r="17.0" fill="#8a0a0a"/><circle cx="2045.4" cy="2721.4" r="17.0" fill="#8a0a0a"/><circle cx="2101.0" cy="2693.1" r="17.0" fill="#8a0a0a"/><circle cx="2156.6" cy="2672.2" r="17.0" fill="#8a0a0a"/><circle cx="2212.2" cy="2660.2" r="17.0" fill="#8a0a0a"/>
<polyline points="433.0,3744.3 488.6,3745.9 544.2,3741.0 599.8,3730.4 655.4,3714.6 711.0,3694.1 766.6,3669.6 822.2,3641.5 877.8,3610.5 933.4,3577.2 989.0,3542.1 1044.6,3506.0 1100.2,3469.6 1155.8,3433.2 1211.4,3396.4 1267.0,3358.7 1322.6,3319.3 1378.2,3277.6 1433.8,3233.3 1489.4,3187.0 1545.0,3139.6 1600.6,3092.1 1656.2,3045.2 1711.8,2998.9 1767.4,2953.1 1823.0,2907.9 1878.6,2863.2 1934.2,2819.9 1989.8,2779.4 2045.4,2743.5 2101.0,2714.5 2156.6,2694.7 2212.2,2686.3" fill="none" stroke="#d030d0" stroke-width="5" stroke-linejoin="round"/><polygon points="413.0,3756.0 453.0,3756.0 433.0,3721.0" fill="#f010f0"/><polygon points="468.6,3757.5 508.6,3757.5 488.6,3722.5" fill="#f010f0"/><polygon points="524.2,3752.7 564.2,3752.7 544.2,3717.7" fill="#f010f0"/><polygon points="579.8,3742.1 619.8,3742.1 599.8,3707.1" fill="#f010f0"/><polygon points="635.4,3726.3 675.4,3726.3 655.4,3691.3" fill="#f010f0"/><polygon points="691.0,3705.8 731.0,3705.8 711.0,3670.8" fill="#f010f0"/><polygon points="746.6,3681.2 786.6,3681.2 766.6,3646.2" fill="#f010f0"/><polygon points="802.2,3653.2 842.2,3653.2 822.2,3618.2" fill="#f010f0"/><polygon points="857.8,3622.2 897.8,3622.2 877.8,3587.2" fill="#f010f0"/><polygon points="913.4,3588.8 953.4,3588.8 933.4,3553.8" fill="#f010f0"/><polygon points="969.0,3553.8 1009.0,3553.8 989.0,3518.8" fill="#f010f0"/><polygon points="1024.6,3517.7 1064.6,3517.7 1044.6,3482.7" fill="#f010f0"/><polygon points="1080.2,3481.2 1120.2,3481.2 1100.2,3446.2" fill="#f010f0"/><polygon points="1135.8,3444.8 1175.8,3444.8 1155.8,3409.8" fill="#f010f0"/><polygon points="1191.4,3408.1 1231.4,3408.1 1211.4,3373.1" fill="#f010f0"/><polygon points="1247.0,3370.3 1287.0,3370.3 1267.0,3335.3" fill="#f010f0"/><polygon points="1302.6,3330.9 1342.6,3330.9 1322.6,3295.9" fill="#f010f0"/><polygon points="1358.2,3289.3 1398.2,3289.3 1378.2,3254.3" fill="#f010f0"/><polygon points="1413.8,3245.0 1453.8,3245.0 1433.8,3210.0" fill="#f010f0"/><polygon points="1469.4,3198.7 1509.4,3198.7 1489.4,3163.7" fill="#f010f0"/><polygon points="1525.0,3151.3 1565.0,3151.3 1545.0,3116.3" fill="#f010f0"/><polygon points="1580.6,3103.8 1620.6,3103.8 1600.6,3068.8" fill="#f010f0"/><polygon points="1636.2,3056.8 1676.2,3056.8 1656.2,3021.8" fill="#f010f0"/><polygon points="1691.8,3010.5 1731.8,3010.5 1711.8,2975.5" fill="#f010f0"/><polygon points="1747.4,2964.8 1787.4,2964.8 1767.4,2929.8" fill="#f010f0"/><polygon points="1803.0,2919.6 1843.0,2919.6 1823.0,2884.6" fill="#f010f0"/><polygon points="1858.6,2874.9 1898.6,2874.9 1878.6,2839.9" fill="#f010f0"/><polygon points="1914.2,2831.6 1954.2,2831.6 1934.2,2796.6" fill="#f010f0"/><polygon points="1969.8,2791.0 2009.8,2791.0 1989.8,2756.0" fill="#f010f0"/><polygon points="2025.4,2755.2 2065.4,2755.2 2045.4,2720.2" fill="#f010f0"/><polygon points="2081.0,2726.2 2121.0,2726.2 2101.0,2691.2" fill="#f010f0"/><polygon points="2136.6,2706.4 2176.6,2706.4 2156.6,2671.4" fill="#f010f0"/><polygon points="2192.2,2698.0 2232.2,2698.0 2212.2,2663.0" fill="#f010f0"/>
<polyline points="433.0,3754.6 488.6,3751.8 544.2,3746.9 599.8,3739.1 655.4,3727.4 711.0,3711.3 766.6,3690.8 822.2,3666.3 877.8,3638.1 933.4,3606.7 989.0,3572.3 1044.6,3535.6 1100.2,3496.9 1155.8,3456.7 1211.4,3415.0 1267.0,3371.8 1322.6,3327.0 1378.2,3280.8 1433.8,3233.4 1489.4,3185.6 1545.0,3137.8 1600.6,3090.5 1656.2,3043.5 1711.8,2996.6 1767.4,2949.6 1823.0,2902.4 1878.6,2855.2 1934.2,2808.6 1989.8,2764.7 2045.4,2725.7 2101.0,2694.0 2156.6,2671.9 2212.2,2661.9" fill="none" stroke="#1010c8" stroke-width="5" stroke-linejoin="round"/><polygon points="413.0,3742.2 453.0,3742.2 433.0,3779.2" fill="#0a0af0"/><polygon points="468.6,3739.4 508.6,3739.4 488.6,3776.4" fill="#0a0af0"/><polygon points="524.2,3734.6 564.2,3734.6 544.2,3771.6" fill="#0a0af0"/><polygon points="579.8,3726.7 619.8,3726.7 599.8,3763.7" fill="#0a0af0"/><polygon points="635.4,3715.1 675.4,3715.1 655.4,3752.1" fill="#0a0af0"/><polygon points="691.0,3699.0 731.0,3699.0 711.0,3736.0" fill="#0a0af0"/><polygon points="746.6,3678.5 786.6,3678.5 766.6,3715.5" fill="#0a0af0"/><polygon points="802.2,3654.0 842.2,3654.0 822.2,3691.0" fill="#0a0af0"/><polygon points="857.8,3625.8 897.8,3625.8 877.8,3662.8" fill="#0a0af0"/><polygon points="913.4,3594.3 953.4,3594.3 933.4,3631.3" fill="#0a0af0"/><polygon points="969.0,3560.0 1009.0,3560.0 989.0,3597.0" fill="#0a0af0"/><polygon points="1024.6,3523.2 1064.6,3523.2 1044.6,3560.2" fill="#0a0af0"/><polygon points="1080.2,3484.6 1120.2,3484.6 1100.2,3521.6" fill="#0a0af0"/><polygon points="1135.8,3444.4 1175.8,3444.4 1155.8,3481.4" fill="#0a0af0"/><polygon points="1191.4,3402.7 1231.4,3402.7 1211.4,3439.7" fill="#0a0af0"/><polygon points="1247.0,3359.5 1287.0,3359.5 1267.0,3396.5" fill="#0a0af0"/><polygon points="1302.6,3314.7 1342.6,3314.7 1322.6,3351.7" fill="#0a0af0"/><polygon points="1358.2,3268.4 1398.2,3268.4 1378.2,3305.4" fill="#0a0af0"/><polygon points="1413.8,3221.1 1453.8,3221.1 1433.8,3258.1" fill="#0a0af0"/><polygon points="1469.4,3173.3 1509.4,3173.3 1489.4,3210.3" fill="#0a0af0"/><polygon points="1525.0,3125.5 1565.0,3125.5 1545.0,3162.5" fill="#0a0af0"/><polygon points="1580.6,3078.1 1620.6,3078.1 1600.6,3115.1" fill="#0a0af0"/><polygon points="1636.2,3031.2 1676.2,3031.2 1656.2,3068.2" fill="#0a0af0"/><polygon points="1691.8,2984.3 1731.8,2984.3 1711.8,3021.3" fill="#0a0af0"/><polygon points="1747.4,2937.3 1787.4,2937.3 1767.4,2974.3" fill="#0a0af0"/><polygon points="1803.0,2890.1 1843.0,2890.1 1823.0,2927.1" fill="#0a0af0"/><polygon points="1858.6,2842.8 1898.6,2842.8 1878.6,2879.8" fill="#0a0af0"/><polygon points="1914.2,2796.3 1954.2,2796.3 1934.2,2833.3" fill="#0a0af0"/><polygon points="1969.8,2752.3 2009.8,2752.3 1989.8,2789.3" fill="#0a0af0"/><polygon points="2025.4,2713.3 2065.4,2713.3 2045.4,2750.3" fill="#0a0af0"/><polygon points="2081.0,2681.6 2121.0,2681.6 2101.0,2718.6" fill="#0a0af0"/><polygon points="2136.6,2659.6 2176.6,2659.6 2156.6,2696.6" fill="#0a0af0"/><polygon points="2192.2,2649.6 2232.2,2649.6 2212.2,2686.6" fill="#0a0af0"/>
<polyline points="433.0,3756.6 488.6,3754.8 544.2,3752.9 599.8,3747.3 655.4,3734.7 711.0,3712.9 766.6,3686.4 822.2,3659.6 877.8,3630.6 933.4,3597.1 989.0,3559.5 1044.6,3519.3 1100.2,3477.8 1155.8,3438.5 1211.4,3405.6 1267.0,3360.5 1322.6,3306.6 1378.2,3252.5 1433.8,3199.6 1489.4,3147.7 1545.0,3096.8 1600.6,3046.5 1656.2,2996.7 1711.8,2947.3 1767.4,2897.9 1823.0,2848.8 1878.6,2800.4 1934.2,2753.8 1989.8,2709.9 2045.4,2670.0 2101.0,2637.1 2156.6,2614.6 2212.2,2605.9" fill="none" stroke="#30d030" stroke-width="5" stroke-linejoin="round"/><polygon points="433.0,3735.6 453.0,3756.6 433.0,3777.6 413.0,3756.6" fill="#22ee22"/><polygon points="488.6,3733.8 508.6,3754.8 488.6,3775.8 468.6,3754.8" fill="#22ee22"/><polygon points="544.2,3731.9 564.2,3752.9 544.2,3773.9 524.2,3752.9" fill="#22ee22"/><polygon points="599.8,3726.3 619.8,3747.3 599.8,3768.3 579.8,3747.3" fill="#22ee22"/><polygon points="655.4,3713.7 675.4,3734.7 655.4,3755.7 635.4,3734.7" fill="#22ee22"/><polygon points="711.0,3691.9 731.0,3712.9 711.0,3733.9 691.0,3712.9" fill="#22ee22"/><polygon points="766.6,3665.4 786.6,3686.4 766.6,3707.4 746.6,3686.4" fill="#22ee22"/><polygon points="822.2,3638.6 842.2,3659.6 822.2,3680.6 802.2,3659.6" fill="#22ee22"/><polygon points="877.8,3609.6 897.8,3630.6 877.8,3651.6 857.8,3630.6" fill="#22ee22"/><polygon points="933.4,3576.1 953.4,3597.1 933.4,3618.1 913.4,3597.1" fill="#22ee22"/><polygon points="989.0,3538.5 1009.0,3559.5 989.0,3580.5 969.0,3559.5" fill="#22ee22"/><polygon points="1044.6,3498.3 1064.6,3519.3 1044.6,3540.3 1024.6,3519.3" fill="#22ee22"/><polygon points="1100.2,3456.8 1120.2,3477.8 1100.2,3498.8 1080.2,3477.8" fill="#22ee22"/><polygon points="1155.8,3417.5 1175.8,3438.5 1155.8,3459.5 1135.8,3438.5" fill="#22ee22"/><polygon points="1211.4,3384.6 1231.4,3405.6 1211.4,3426.6 1191.4,3405.6" fill="#22ee22"/><polygon points="1267.0,3339.5 1287.0,3360.5 1267.0,3381.5 1247.0,3360.5" fill="#22ee22"/><polygon points="1322.6,3285.6 1342.6,3306.6 1322.6,3327.6 1302.6,3306.6" fill="#22ee22"/><polygon points="1378.2,3231.5 1398.2,3252.5 1378.2,3273.5 1358.2,3252.5" fill="#22ee22"/><polygon points="1433.8,3178.6 1453.8,3199.6 1433.8,3220.6 1413.8,3199.6" fill="#22ee22"/><polygon points="1489.4,3126.7 1509.4,3147.7 1489.4,3168.7 1469.4,3147.7" fill="#22ee22"/><polygon points="1545.0,3075.8 1565.0,3096.8 1545.0,3117.8 1525.0,3096.8" fill="#22ee22"/><polygon points="1600.6,3025.5 1620.6,3046.5 1600.6,3067.5 1580.6,3046.5" fill="#22ee22"/><polygon points="1656.2,2975.7 1676.2,2996.7 1656.2,3017.7 1636.2,2996.7" fill="#22ee22"/><polygon points="1711.8,2926.3 1731.8,2947.3 1711.8,2968.3 1691.8,2947.3" fill="#22ee22"/><polygon points="1767.4,2876.9 1787.4,2897.9 1767.4,2918.9 1747.4,2897.9" fill="#22ee22"/><polygon points="1823.0,2827.8 1843.0,2848.8 1823.0,2869.8 1803.0,2848.8" fill="#22ee22"/><polygon points="1878.6,2779.4 1898.6,2800.4 1878.6,2821.4 1858.6,2800.4" fill="#22ee22"/><polygon points="1934.2,2732.8 1954.2,2753.8 1934.2,2774.8 1914.2,2753.8" fill="#22ee22"/><polygon points="1989.8,2688.9 2009.8,2709.9 1989.8,2730.9 1969.8,2709.9" fill="#22ee22"/><polygon points="2045.4,2649.0 2065.4,2670.0 2045.4,2691.0 2025.4,2670.0" fill="#22ee22"/><polygon points="2101.0,2616.1 2121.0,2637.1 2101.0,2658.1 2081.0,2637.1" fill="#22ee22"/><polygon points="2156.6,2593.6 2176.6,2614.6 2156.6,2635.6 2136.6,2614.6" fill="#22ee22"/><polygon points="2212.2,2584.9 2232.2,2605.9 2212.2,2626.9 2192.2,2605.9" fill="#22ee22"/>
<polyline points="433.0,3746.5 488.6,3747.3 544.2,3744.2 599.8,3737.4 655.4,3727.5 711.0,3714.7 766.6,3698.2 822.2,3675.5 877.8,3641.9 933.4,3604.6 989.0,3565.3 1044.6,3523.1 1100.2,3477.5 1155.8,3429.4 1211.4,3384.4 1267.0,3340.1 1322.6,3291.0 1378.2,3233.6 1433.8,3172.5 1489.4,3113.1 1545.0,3055.6 1600.6,2998.8 1656.2,2942.8 1711.8,2887.8 1767.4,2834.1 1823.0,2781.8 1878.6,2731.5 1934.2,2683.2 1989.8,2637.5 2045.4,2595.3 2101.0,2560.2 2156.6,2536.7 2212.2,2529.2" fill="none" stroke="#d09040" stroke-width="5" stroke-linejoin="round"/><polygon points="443.3,3726.5 443.3,3766.5 412.3,3746.5" fill="#f88010"/><polygon points="498.9,3727.3 498.9,3767.3 467.9,3747.3" fill="#f88010"/><polygon points="554.5,3724.2 554.5,3764.2 523.5,3744.2" fill="#f88010"/><polygon points="610.1,3717.4 610.1,3757.4 579.1,3737.4" fill="#f88010"/><polygon points="665.7,3707.5 665.7,3747.5 634.7,3727.5" fill="#f88010"/><polygon points="721.3,3694.7 721.3,3734.7 690.3,3714.7" fill="#f88010"/><polygon points="776.9,3678.2 776.9,3718.2 745.9,3698.2" fill="#f88010"/><polygon points="832.5,3655.5 832.5,3695.5 801.5,3675.5" fill="#f88010"/><polygon points="888.1,3621.9 888.1,3661.9 857.1,3641.9" fill="#f88010"/><polygon points="943.7,3584.6 943.7,3624.6 912.7,3604.6" fill="#f88010"/><polygon points="999.3,3545.3 999.3,3585.3 968.3,3565.3" fill="#f88010"/><polygon points="1054.9,3503.1 1054.9,3543.1 1023.9,3523.1" fill="#f88010"/><polygon points="1110.5,3457.5 1110.5,3497.5 1079.5,3477.5" fill="#f88010"/><polygon points="1166.1,3409.4 1166.1,3449.4 1135.1,3429.4" fill="#f88010"/><polygon points="1221.7,3364.4 1221.7,3404.4 1190.7,3384.4" fill="#f88010"/><polygon points="1277.3,3320.1 1277.3,3360.1 1246.3,3340.1" fill="#f88010"/><polygon points="1332.9,3271.0 1332.9,3311.0 1301.9,3291.0" fill="#f88010"/><polygon points="1388.5,3213.6 1388.5,3253.6 1357.5,3233.6" fill="#f88010"/><polygon points="1444.1,3152.5 1444.1,3192.5 1413.1,3172.5" fill="#f88010"/><polygon points="1499.7,3093.1 1499.7,3133.1 1468.7,3113.1" fill="#f88010"/><polygon points="1555.3,3035.6 1555.3,3075.6 1524.3,3055.6" fill="#f88010"/><polygon points="1610.9,2978.8 1610.9,3018.8 1579.9,2998.8" fill="#f88010"/><polygon points="1666.5,2922.8 1666.5,2962.8 1635.5,2942.8" fill="#f88010"/><polygon points="1722.1,2867.8 1722.1,2907.8 1691.1,2887.8" fill="#f88010"/><polygon points="1777.7,2814.1 1777.7,2854.1 1746.7,2834.1" fill="#f88010"/><polygon points="1833.3,2761.8 1833.3,2801.8 1802.3,2781.8" fill="#f88010"/><polygon points="1888.9,2711.5 1888.9,2751.5 1857.9,2731.5" fill="#f88010"/><polygon points="1944.5,2663.2 1944.5,2703.2 1913.5,2683.2" fill="#f88010"/><polygon points="2000.1,2617.5 2000.1,2657.5 1969.1,2637.5" fill="#f88010"/><polygon points="2055.7,2575.3 2055.7,2615.3 2024.7,2595.3" fill="#f88010"/><polygon points="2111.3,2540.2 2111.3,2580.2 2080.3,2560.2" fill="#f88010"/><polygon points="2166.9,2516.7 2166.9,2556.7 2135.9,2536.7" fill="#f88010"/><polygon points="2222.5,2509.2 2222.5,2549.2 2191.5,2529.2" fill="#f88010"/>
<polyline points="433.0,3720.5 488.6,3720.3 544.2,3718.3 599.8,3714.1 655.4,3707.4 711.0,3697.9 766.6,3684.9 822.2,3668.1 877.8,3646.8 933.4,3620.4 989.0,3587.8 1044.6,3547.7 1100.2,3499.0 1155.8,3443.6 1211.4,3390.3 1267.0,3332.1 1322.6,3269.4 1378.2,3205.4 1433.8,3140.9 1489.4,3076.4 1545.0,3012.1 1600.6,2948.6 1656.2,2886.0 1711.8,2825.0 1767.4,2765.7 1823.0,2708.6 1878.6,2654.1 1934.2,2602.5 1989.8,2554.1 2045.4,2510.0 2101.0,2474.0 2156.6,2450.4 2212.2,2443.7" fill="none" stroke="#000" stroke-width="5" stroke-linejoin="round"/><polygon points="421.0,3700.0 421.0,3741.0 457.0,3720.5" fill="#000"/><polygon points="476.6,3699.8 476.6,3740.8 512.6,3720.3" fill="#000"/><polygon points="532.2,3697.8 532.2,3738.8 568.2,3718.3" fill="#000"/><polygon points="587.8,3693.6 587.8,3734.6 623.8,3714.1" fill="#000"/><polygon points="643.4,3686.9 643.4,3727.9 679.4,3707.4" fill="#000"/><polygon points="699.0,3677.4 699.0,3718.4 735.0,3697.9" fill="#000"/><polygon points="754.6,3664.4 754.6,3705.4 790.6,3684.9" fill="#000"/><polygon points="810.2,3647.6 810.2,3688.6 846.2,3668.1" fill="#000"/><polygon points="865.8,3626.3 865.8,3667.3 901.8,3646.8" fill="#000"/><polygon points="921.4,3599.9 921.4,3640.9 957.4,3620.4" fill="#000"/><polygon points="977.0,3567.3 977.0,3608.3 1013.0,3587.8" fill="#000"/><polygon points="1032.6,3527.2 1032.6,3568.2 1068.6,3547.7" fill="#000"/><polygon points="1088.2,3478.5 1088.2,3519.5 1124.2,3499.0" fill="#000"/><polygon points="1143.8,3423.1 1143.8,3464.1 1179.8,3443.6" fill="#000"/><polygon points="1199.4,3369.8 1199.4,3410.8 1235.4,3390.3" fill="#000"/><polygon points="1255.0,3311.6 1255.0,3352.6 1291.0,3332.1" fill="#000"/><polygon points="1310.6,3248.9 1310.6,3289.9 1346.6,3269.4" fill="#000"/><polygon points="1366.2,3184.9 1366.2,3225.9 1402.2,3205.4" fill="#000"/><polygon points="1421.8,3120.4 1421.8,3161.4 1457.8,3140.9" fill="#000"/><polygon points="1477.4,3055.9 1477.4,3096.9 1513.4,3076.4" fill="#000"/><polygon points="1533.0,2991.6 1533.0,3032.6 1569.0,3012.1" fill="#000"/><polygon points="1588.6,2928.1 1588.6,2969.1 1624.6,2948.6" fill="#000"/><polygon points="1644.2,2865.5 1644.2,2906.5 1680.2,2886.0" fill="#000"/><polygon points="1699.8,2804.5 1699.8,2845.5 1735.8,2825.0" fill="#000"/><polygon points="1755.4,2745.2 1755.4,2786.2 1791.4,2765.7" fill="#000"/><polygon points="1811.0,2688.1 1811.0,2729.1 1847.0,2708.6" fill="#000"/><polygon points="1866.6,2633.6 1866.6,2674.6 1902.6,2654.1" fill="#000"/><polygon points="1922.2,2582.0 1922.2,2623.0 1958.2,2602.5" fill="#000"/><polygon points="1977.8,2533.6 1977.8,2574.6 2013.8,2554.1" fill="#000"/><polygon points="2033.4,2489.5 2033.4,2530.5 2069.4,2510.0" fill="#000"/><polygon points="2089.0,2453.5 2089.0,2494.5 2125.0,2474.0" fill="#000"/><polygon points="2144.6,2429.9 2144.6,2470.9 2180.6,2450.4" fill="#000"/><polygon points="2200.2,2423.2 2200.2,2464.2 2236.2,2443.7" fill="#000"/>
<rect x="445.6" y="2419.3" width="500.7" height="615" fill="#fff" stroke="#222" stroke-width="3"/>
<line x1="454" y1="2467.9" x2="613" y2="2467.9" stroke="#000" stroke-width="5"/>
<polygon points="521.0,2447.4 521.0,2488.4 557.0,2467.9" fill="#000"/>
<text transform="translate(644.5,2493) scale(0.963,1)" x="0" y="0" class="tr" font-size="71.5" fill="#000">HR = 2.50</text>
<line x1="454" y1="2554.7" x2="613" y2="2554.7" stroke="#d09040" stroke-width="5"/>
<polygon points="543.3,2534.7 543.3,2574.7 512.3,2554.7" fill="#f88010"/>
<text transform="translate(801.5,2577.7) scale(0.963,1)" x="0" y="0" class="tr" font-size="71.5" fill="#e08030">2.25</text>
<line x1="454" y1="2640.4" x2="613" y2="2640.4" stroke="#30d030" stroke-width="5"/>
<polygon points="533.0,2619.4 553.0,2640.4 533.0,2661.4 513.0,2640.4" fill="#22ee22"/>
<text transform="translate(801.5,2663.4) scale(0.963,1)" x="0" y="0" class="tr" font-size="71.5" fill="#30c830">2.0</text>
<line x1="454" y1="2726.4" x2="613" y2="2726.4" stroke="#1010c8" stroke-width="5"/>
<polygon points="513.0,2714.1 553.0,2714.1 533.0,2751.1" fill="#0a0af0"/>
<text transform="translate(806,2749.4) scale(0.963,1)" x="0" y="0" class="tr" font-size="71.5" fill="#1a1aa0">1.75</text>
<line x1="454" y1="2812.5" x2="613" y2="2812.5" stroke="#d030d0" stroke-width="5"/>
<polygon points="513.0,2824.2 553.0,2824.2 533.0,2789.2" fill="#f010f0"/>
<text transform="translate(806,2835.5) scale(0.963,1)" x="0" y="0" class="tr" font-size="71.5" fill="#d040d0">1.50</text>
<line x1="454" y1="2898.9" x2="613" y2="2898.9" stroke="#7a1010" stroke-width="5"/>
<circle cx="533.0" cy="2898.9" r="17.0" fill="#8a0a0a"/>
<text transform="translate(806,2921.9) scale(0.963,1)" x="0" y="0" class="tr" font-size="71.5" fill="#801010">1.25</text>
<line x1="454" y1="2985" x2="613" y2="2985" stroke="#1010c8" stroke-width="5"/>
<rect x="516.5" y="2968.5" width="33.0" height="33.0" fill="#0a0af0"/>
<text transform="translate(806,3008.0) scale(0.963,1)" x="0" y="0" class="tr" font-size="71.5" fill="#1a1aa0">1.0</text>
</g>
<text x="849" y="4285" class="cap" font-size="86">(<tspan font-weight="bold">b</tspan>) (1.0 ≤ HR ≤ 2.5)</text>
</svg>
</body></html>
